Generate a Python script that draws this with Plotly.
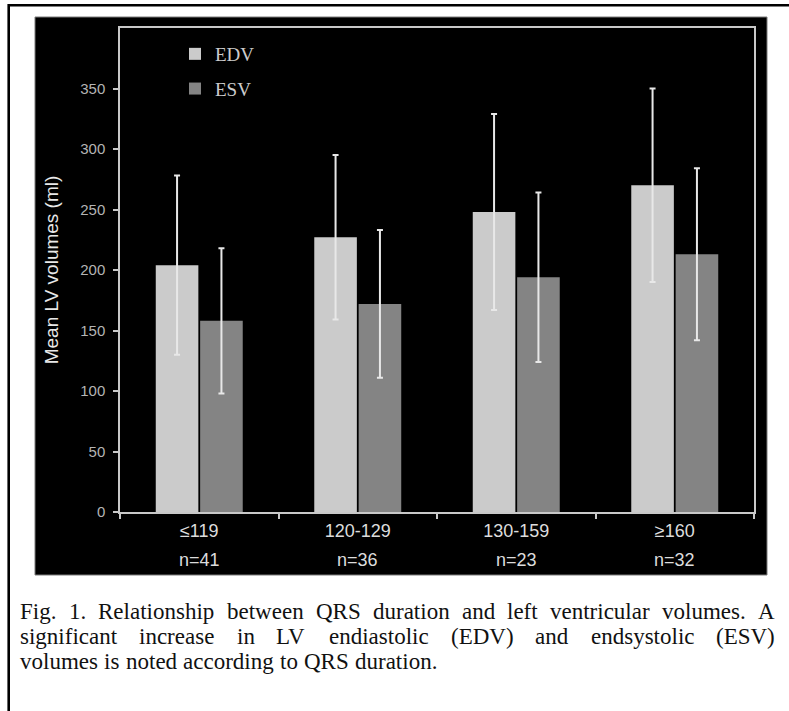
import plotly.graph_objects as go

# ---------------- data ----------------
categories = ["≤119", "120-129", "130-159", "≥160"]
group_sizes = ["n=41", "n=36", "n=23", "n=32"]
edv_mean = [204, 227, 248, 270]
edv_sd = [74, 68, 81, 80]
esv_mean = [158, 172, 194, 213]
esv_sd = [60, 61, 70, 71]
y_ticks = [0, 50, 100, 150, 200, 250, 300, 350]
y_title = "Mean LV volumes (ml)"
caption_lines = [
    "Fig. 1. Relationship between QRS duration and left ventricular volumes. A",
    "significant increase in LV endiastolic (EDV) and endsystolic (ESV)",
    "volumes is noted according to QRS duration.",
]

# ---------------- layout geometry (pixels) ----------------
W, H = 789, 711
PL, PR, PT, PB = 120, 754, 28, 512


def px_x(px):
    return (px - PL) / (PR - PL)


def px_y(py):
    return (PB - py) / (PB - PT)


SANS = "Arial, Liberation Sans, sans-serif"
SERIF = "Times New Roman, Liberation Serif, serif"

fig = go.Figure()
fig.add_trace(go.Bar(
    name="EDV", x=categories, y=edv_mean, legendgroup="edv",
    marker=dict(color="#cbcbcb", line=dict(width=0)),
    error_y=dict(type="data", array=edv_sd, color="#e8e8e8", thickness=2, width=3),
))
fig.add_trace(go.Bar(
    name="ESV", x=categories, y=esv_mean, legendgroup="esv",
    marker=dict(color="#848484", line=dict(width=0)),
    error_y=dict(type="data", array=esv_sd, color="#e8e8e8", thickness=2, width=3),
))

shapes = []
# outer figure border (top and left)
shapes.append(dict(type="line", xref="paper", yref="paper", xsizemode="pixel", ysizemode="pixel",
                   xanchor=0, yanchor=0, x0=8.7 - PL, x1=W + 20 - PL, y0=PB - 5.3, y1=PB - 5.3,
                   line=dict(color="black", width=2.6), layer="below"))
shapes.append(dict(type="line", xref="paper", yref="paper", xsizemode="pixel", ysizemode="pixel",
                   xanchor=0, yanchor=0, x0=8.7 - PL, x1=8.7 - PL, y0=PB - 4, y1=PB - H - 20,
                   line=dict(color="black", width=2.6), layer="below"))
# black chart panel
shapes.append(dict(type="rect", xref="paper", yref="paper", xsizemode="pixel", ysizemode="pixel",
                   xanchor=0, yanchor=0, x0=35 - PL, x1=767 - PL, y0=PB - 17, y1=PB - 575,
                   fillcolor="black", line=dict(color="#7a7a7a", width=1), layer="below"))

annotations = []
for cat, n in zip(categories, group_sizes):
    annotations.append(dict(x=cat, xref="x", y=px_y(560), yref="paper", text=n, showarrow=False,
                            xanchor="center", yanchor="middle",
                            font=dict(family=SANS, size=18, color="#dcdcdc")))

# caption with justified lines (Times metrics)
TW = {"a": 444, "b": 500, "c": 444, "d": 500, "e": 444, "f": 333, "g": 500, "h": 500, "i": 278,
      "j": 278, "k": 500, "l": 278, "m": 778, "n": 500, "o": 500, "p": 500, "q": 500, "r": 333,
      "s": 389, "t": 278, "u": 500, "v": 500, "w": 722, "x": 500, "y": 500, "z": 444,
      "A": 722, "D": 722, "E": 611, "F": 556, "L": 611, "Q": 722, "R": 667, "S": 556, "V": 722,
      "1": 500, ".": 250, "(": 333, ")": 333, " ": 250}
CAP_SIZE = 23
CAP_LEFT, CAP_RIGHT = 18, 773
cap_centers = [611, 636, 661]


def wwidth(w):
    return sum(TW.get(c, 500) for c in w) / 1000 * CAP_SIZE


for li, (line, yc) in enumerate(zip(caption_lines, cap_centers)):
    words = line.split(" ")
    widths = [wwidth(w) for w in words]
    justify = li < len(caption_lines) - 1
    gap = (CAP_RIGHT - CAP_LEFT - sum(widths)) / (len(words) - 1) if justify else 0.27 * CAP_SIZE
    xpos = CAP_LEFT
    for w, wd in zip(words, widths):
        annotations.append(dict(x=px_x(xpos), xref="paper", y=px_y(yc), yref="paper", text=w,
                                showarrow=False, xanchor="left", yanchor="middle",
                                font=dict(family=SERIF, size=CAP_SIZE, color="#111111")))
        xpos += wd + gap

axis_line = "#c8c8c8"
fig.update_layout(
    width=W, height=H,
    margin=dict(l=PL, r=W - PR, t=PT, b=H - PB, pad=0),
    paper_bgcolor="white", plot_bgcolor="black",
    barmode="group", bargap=0.44, bargroupgap=0.04,
    showlegend=True,
    legend=dict(x=px_x(175), y=px_y(35), xanchor="left", yanchor="top",
                bgcolor="rgba(0,0,0,0)", traceorder="grouped", tracegroupgap=7,
                font=dict(family=SERIF, size=19, color="#cccccc")),
    xaxis=dict(showline=True, linecolor=axis_line, linewidth=1.5, mirror=True,
               ticks="outside", tickson="boundaries", ticklen=5, tickcolor=axis_line, tickwidth=1.5,
               tickfont=dict(family=SANS, size=18, color="#dcdcdc"), showgrid=False,
               ticklabelstandoff=2),
    yaxis=dict(range=[0, 400], tickvals=y_ticks, showline=True, linecolor=axis_line, linewidth=1.5,
               mirror=True, ticks="outside", ticklen=5, tickcolor=axis_line, tickwidth=1.5,
               tickfont=dict(family=SANS, size=15, color="#b4b4b4"), showgrid=False, zeroline=False,
               ticklabelstandoff=5,
               title=dict(text=y_title, font=dict(family=SANS, size=19, color="#e8e8e8"), standoff=17)),
    shapes=shapes,
    annotations=annotations,
)

fig.write_html("out.html", config={"displayModeBar": False},
               post_script="document.body.style.margin='0';")
